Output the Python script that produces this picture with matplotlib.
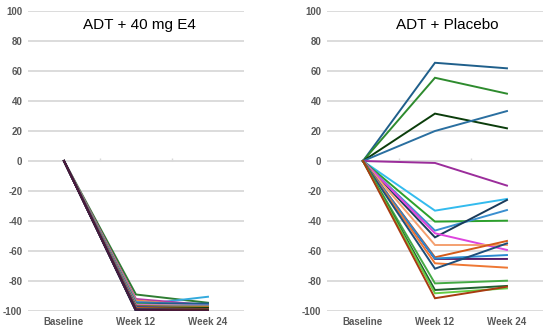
import matplotlib.pyplot as plt

plt.rcParams["font.family"] = ["Liberation Sans", "DejaVu Sans"]
plt.rcParams["axes.unicode_minus"] = False

# categories along the x axis
visits = ["Baseline", "Week 12", "Week 24"]

# ADT + 40 mg E4: percent change, (week 12, week 24) per patient
e4_week12 = [-89, -96, -92, -93, -94, -95, -95.5, -96, -96.5, -97, -97, -97.5,
             -98, -98, -98.5, -99, -99, -99.5, -100, -100, -100, -99]
e4_week24 = [-94.5, -90.5, -96, -97, -96, -95, -97, -96.5, -98, -97, -98.5, -98,
             -99, -97.5, -98, -99, -100, -99, -99.5, -100, -100, -100]
e4_colors = ["#2e7d32", "#33aadd", "#b03aa8", "#f08a4b", "#3a8fd0", "#1f5f8b",
             "#66bb44", "#e070d0", "#d45a1a", "#2ca02c", "#7b3f99", "#1d4e7a",
             "#4fc3f7", "#ef6c2a", "#0b3d0b", "#8e44ad", "#1f77b4", "#a83a10",
             "#222222", "#3c1a4a", "#2a2a50", "#4a1a3a"]

# ADT + Placebo
pl_week12 = [65.5, 55.5, 31.6, 20, -1.3, -33.1, -40.4, -46.4, -50.9, -48.2,
             -56, -64.2, -65.3, -65, -68.2, -71.8, -81.6, -86, -88.2, -91.5]
pl_week24 = [61.8, 44.9, 21.8, 33.3, -16.4, -25.3, -39.8, -32.7, -26, -59.3,
             -56, -53.3, -65.3, -62.7, -71.1, -54.9, -79.8, -83.3, -84.9, -83.8]
pl_colors = ["#1f5f8b", "#2e8b2e", "#0b3d0b", "#2a6fa0", "#9b2d9b", "#33bbee",
             "#2ca02c", "#3a8fd0", "#1a3a5a", "#dd44dd", "#f4a070", "#d45a1a",
             "#5a1a6a", "#2a8ad0", "#ee7733", "#1d4e7a", "#44aa44", "#1f5f2f",
             "#66cc44", "#a83a10"]

grid_c = "#d9d9d9"
lab_c = "#595959"

fig = plt.figure(figsize=(5.5, 3.3), dpi=100)
ax1 = fig.add_axes([0.0509, 0.0576, 0.3927, 0.909])
ax2 = fig.add_axes([0.5945, 0.0576, 0.3927, 0.909])

def panel(ax, w12, w24, colors, title, title_x):
    ax.set_xlim(0, 3)
    ax.set_ylim(-100, 100)
    for v in range(-100, 101, 20):
        ax.axhline(v, color=grid_c, lw=1.3, zorder=0)
    ax.vlines([1, 2], 0, 2, color=grid_c, lw=1, zorder=0)
    xs = [0.5, 1.5, 2.5]
    for a, b, c in zip(w12, w24, colors):
        ax.plot(xs, [0, a, b], color=c, lw=1.4, solid_joinstyle="miter")
    for s in ax.spines.values():
        s.set_visible(False)
    ax.set_xticks(xs)
    ax.set_xticklabels(visits)
    ax.set_yticks(range(-100, 101, 20))
    ax.tick_params(length=0, labelsize=7, labelcolor=lab_c, pad=4)
    for t in ax.get_xticklabels() + ax.get_yticklabels():
        t.set_fontweight("bold")
    ax.text(title_x, 91, title, ha="center", va="center", fontsize=11)

panel(ax1, e4_week12, e4_week24, e4_colors, "ADT + 40 mg E4", 1.55)
panel(ax2, pl_week12, pl_week24, pl_colors, "ADT + Placebo", 1.67)

fig.savefig("out.png")
